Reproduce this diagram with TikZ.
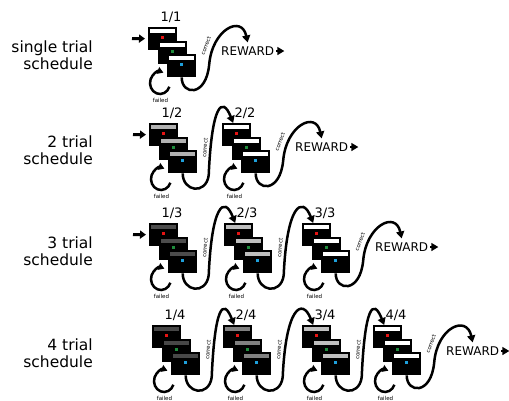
\documentclass[tikz,border=0pt]{standalone}
\usepackage{fontspec}
\setmainfont{DejaVu Sans}
\usetikzlibrary{arrows.meta,calc}
\definecolor{dotred}{RGB}{230,20,20}
\definecolor{dotgreen}{RGB}{30,140,60}
\definecolor{dotblue}{RGB}{30,160,220}
\tikzset{
 screen/.style={rectangle,fill=black,minimum width=29pt,minimum height=23pt,inner sep=0pt,anchor=north west},
 flow/.style={line width=2.5pt,-{Triangle[length=7pt,width=8pt]}},
 loopline/.style={line width=2.5pt,-{Triangle[length=6pt,width=7pt]}},
 entry/.style={line width=3pt,-{Triangle[length=6pt,width=8pt]},shorten >=3pt},
 rwtip/.style={line width=1.5pt,-{Triangle[length=7pt,width=8pt]}},
 fraclab/.style={font=\fontsize{13}{15}\selectfont,inner sep=0pt},
 rowlab/.style={font=\fontsize{15.5}{17}\selectfont,align=right,anchor=east,inner sep=0pt},
 rewardlab/.style={font=\fontsize{12}{14}\selectfont,anchor=west,inner xsep=2pt,inner ysep=4pt},
 smalllab/.style={font=\fontsize{5.5}{6}\selectfont,inner sep=0pt},
}
\newcommand\grp[5]{%
 \foreach \i/\dx/\dy/\dc in {1/0/0/dotred,2/10/14/dotgreen,3/19/27/dotblue}{
   \node[screen] (#1s\i) at (#2+\dx,#3+\dy) {};
   \fill[#4] ([shift={(2,2)}]#1s\i.north west) rectangle ([shift={(-2,6)}]#1s\i.north east);
   \fill[\dc] ([shift={(-1.75,-2.75)}]#1s\i.center) rectangle ++(3.5,3.5);
 }
 \node[fraclab] (#1lab) at (#2+23,#3-10) {#5};
 \coordinate (#1lc) at (#2+12,#3+56);
 \draw[loopline] ([shift={(20:10 and 11)}]#1lc) arc[start angle=20,end angle=290,x radius=10,y radius=11];
 \node[smalllab] (#1fail) at (#2+12.5,#3+73) {failed};
}
\newcommand\nextcurve[2]{%
 \coordinate (#1tip) at ($(#2s1.north)+(-3.5,0)$);
 \draw[flow] (#1s3.south)
   .. controls ($(#1s3.south)+(0,18)$) and ($(#1s3.south)+(23,22)$) .. ($(#1s3.south)+(26,2)$)
   .. controls ($(#1s3.south)+(29,-68)$) and ($(#1tip)+(-11,-28)$) .. (#1tip);
 \node[smalllab,rotate=85] (#1cor) at ($(#1s1.north west)+(56,25)$) {correct};
}
\newcommand\rewardcurve[2]{%
 \node[rewardlab] (#1rw) at ($(#1s1.north west)+(71,#2)$) {REWARD};
 \draw[flow] (#1s3.south)
   .. controls ($(#1s3.south)+(0,18)$) and ($(#1s3.south)+(24.5,20)$) .. ($(#1s3.south)+(27.5,-13)$)
   .. controls ($(#1s3.south)+(30.5,-48)$) and ($(#1rw.north)+(-6,-28)$) .. (#1rw.north);
 \draw[rwtip] (#1rw.east) -- ++(8,0);
 \node[smalllab,rotate=70] (#1cor) at ($(#1s1.north west)+(58,19)$) {correct};
}
\begin{document}
\begin{tikzpicture}[x=1pt,y=-1pt]
\useasboundingbox (0,0) rectangle (509,400);
% row labels
\node[rowlab] (lab1) at (93,55.5) {single trial\\schedule};
\node[rowlab] (lab2) at (93,150.5) {2 trial\\schedule};
\node[rowlab] (lab3) at (93,251.5) {3 trial\\schedule};
\node[rowlab] (lab4) at (93,353.5) {4 trial\\schedule};
% groups
\grp{r1g1}{148}{27}{white}{1/1}
\grp{r2g1}{149}{123}{black!30}{1/2}
\grp{r2g2}{222}{123}{white}{2/2}
\grp{r3g1}{149}{223}{black!70}{1/3}
\grp{r3g2}{224}{223}{black!25}{2/3}
\grp{r3g3}{302}{223}{white}{3/3}
\grp{r4g1}{152}{325}{black!72}{1/4}
\grp{r4g2}{223}{325}{black!50}{2/4}
\grp{r4g3}{302}{325}{black!25}{3/4}
\grp{r4g4}{373}{325}{white}{4/4}
% entry arrows
\coordinate (r1in) at (132,38.5);
\coordinate (r2in) at (133,134.5);
\coordinate (r3in) at (133,234.5);
\draw[entry] (r1in) -- (r1g1s1.west);
\draw[entry] (r2in) -- (r2g1s1.west);
\draw[entry] (r3in) -- (r3g1s1.west);
% transitions
\rewardcurve{r1g1}{24}
\nextcurve{r2g1}{r2g2}
\rewardcurve{r2g2}{24}
\nextcurve{r3g1}{r3g2}
\nextcurve{r3g2}{r3g3}
\rewardcurve{r3g3}{24}
\nextcurve{r4g1}{r4g2}
\nextcurve{r4g2}{r4g3}
\nextcurve{r4g3}{r4g4}
\rewardcurve{r4g4}{26}
\end{tikzpicture}
\end{document}
